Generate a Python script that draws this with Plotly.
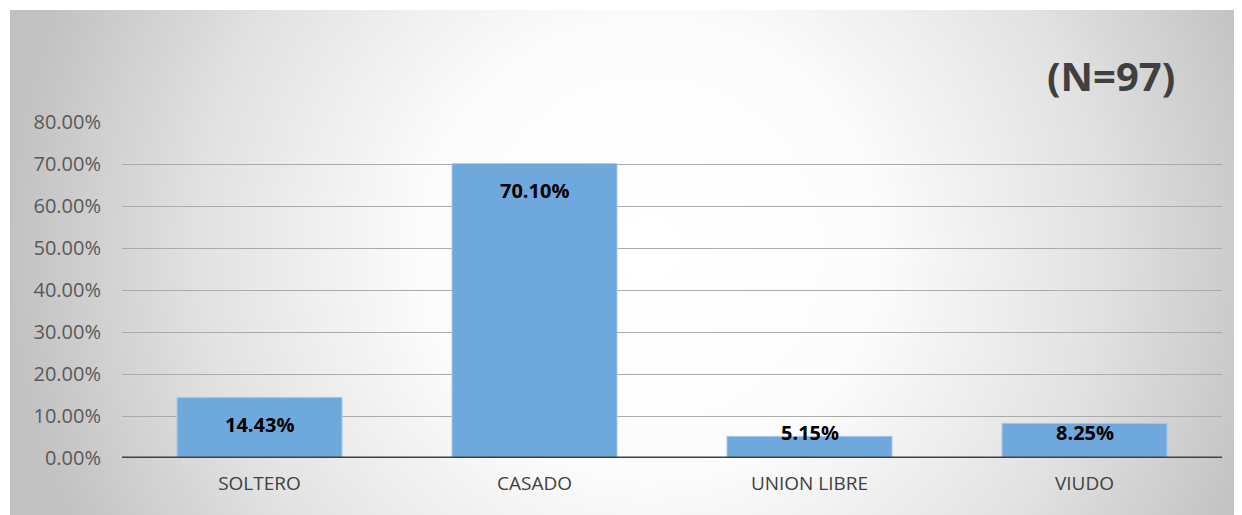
import base64
import plotly.graph_objects as go

categories = ["SOLTERO", "CASADO", "UNION LIBRE", "VIUDO"]
values = [0.1443, 0.7010, 0.0515, 0.0825]
value_labels = ["14.43%", "70.10%", "5.15%", "8.25%"]
tick_vals = [0, 0.1, 0.2, 0.3, 0.4, 0.5, 0.6, 0.7, 0.8]
tick_text = ["0.00%", "10.00%", "20.00%", "30.00%", "40.00%", "50.00%", "60.00%", "70.00%", "80.00%"]
n_label = "(N=97)"

OFF = 8  # default body margin of the page
W, H = 1242 - OFF, 515 - OFF
L, R, T, B = 122 - OFF, 20, 122 - OFF, 57
plot_w = W - L - R
plot_h = H - T - B
y_max = 0.8
px_per_unit = plot_h / y_max

svg = """<svg xmlns='http://www.w3.org/2000/svg' width='1232' height='505' preserveAspectRatio='none' viewBox='0 0 1232 505'>
<defs><radialGradient id='g' gradientUnits='userSpaceOnUse' cx='640' cy='240' r='640' fx='640' fy='240'>
<stop offset='0' stop-color='#ffffff'/>
<stop offset='0.35' stop-color='#fcfcfc'/>
<stop offset='0.7' stop-color='#e2e2e2'/>
<stop offset='1' stop-color='#c2c2c2'/>
</radialGradient></defs>
<rect x='0' y='0' width='1232' height='505' fill='url(#g)'/>
</svg>"""
src = "data:image/svg+xml;base64," + base64.b64encode(svg.encode()).decode()

fig = go.Figure()
fig.add_trace(go.Bar(
    x=categories, y=values, width=0.6,
    marker=dict(color="#6fa8dc", line=dict(color="#a9c9ea", width=1)),
    hoverinfo="skip",
))

for c, v, lab in zip(categories, values, value_labels):
    vpx = v * px_per_unit
    shift = max(-27, 25.5 - vpx)
    fig.add_annotation(x=c, y=v, yshift=shift, text=lab, showarrow=False,
                       font=dict(family="Open Sans", size=20, color="#000000", weight="bold"),
                       yanchor="middle")

fig.add_annotation(xref="paper", yref="paper", x=(1111 - OFF - L) / plot_w,
                   y=(H - B - (75 - OFF)) / plot_h,
                   text=n_label, showarrow=False, yanchor="middle", xanchor="center",
                   font=dict(family="Open Sans", size=40, color="#404040", weight="bold"))

fx0, fy0 = 10 - OFF, 10 - OFF
fig.add_layout_image(dict(
    source=src, xref="paper", yref="paper",
    x=(fx0 - L) / plot_w, y=(H - B - fy0) / plot_h,
    sizex=(W - fx0) / plot_w, sizey=(H - fy0) / plot_h,
    xanchor="left", yanchor="top", sizing="stretch", layer="below",
))

fig.add_shape(type="line", xref="paper", yref="y", x0=0, x1=1, y0=0, y1=0,
              line=dict(color="#404040", width=3))

fig.update_layout(
    width=W, height=H,
    margin=dict(l=L, r=R, t=T, b=B),
    paper_bgcolor="#ffffff", plot_bgcolor="rgba(0,0,0,0)",
    showlegend=False, bargap=0.4,
    font=dict(family="Open Sans", size=20, color="#595959"),
    xaxis=dict(showgrid=False, showline=False, zeroline=False, ticks="",
               tickfont=dict(size=19, color="#404040"), ticklabelstandoff=12),
    yaxis=dict(range=[0, y_max], tickvals=tick_vals, ticktext=tick_text,
               showgrid=True, gridcolor="#ababab", gridwidth=1, zeroline=False,
               showline=False, ticks="", tickfont=dict(size=20, color="#595959"),
               ticklabelstandoff=20),
)

fig.write_html("out.html")
